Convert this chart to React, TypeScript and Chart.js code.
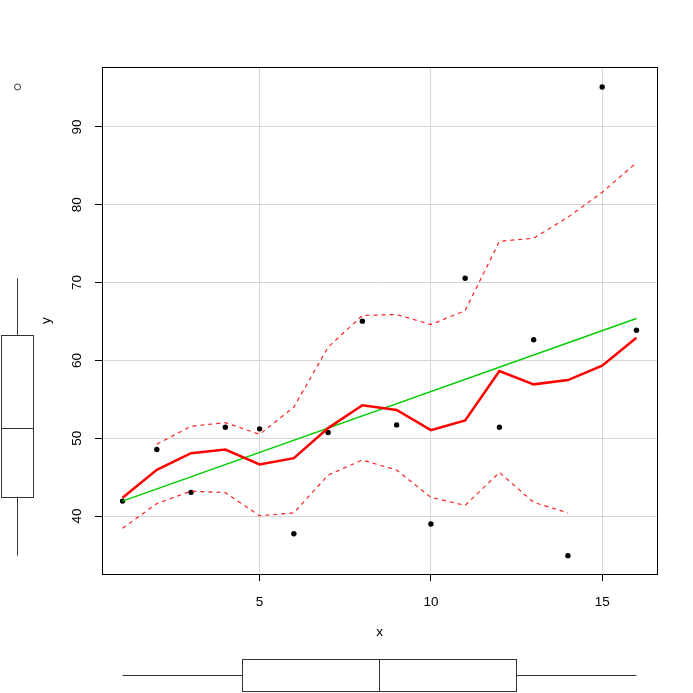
import React, { useEffect, useRef } from "react";
import { Chart, registerables } from "chart.js";

Chart.register(...registerables);

const xValues = [1, 2, 3, 4, 5, 6, 7, 8, 9, 10, 11, 12, 13, 14, 15, 16];
const yValues = [41.92, 48.55, 43.04, 51.41, 51.2, 37.73, 50.73, 65.04, 51.71, 38.97, 70.55, 51.41, 62.65, 34.91, 95.13, 63.88];

const smoothX = [1, 2, 3, 4, 5, 6, 7, 8, 9, 10, 11, 12, 13, 14, 15, 16];
const smoothY = [42.35, 45.94, 48.08, 48.55, 46.62, 47.44, 51.3, 54.23, 53.63, 51.03, 52.27, 58.63, 56.92, 57.47, 59.32, 62.91];

const upperX = [2, 3, 4, 5, 6, 7, 8, 9, 10, 11, 12, 13, 14, 15, 16];
const upperY = [49.23, 51.54, 52.0, 50.5, 54.0, 61.7, 65.77, 65.9, 64.6, 66.4, 75.3, 75.7, 78.4, 81.6, 85.4];

const lowerX = [1, 2, 3, 4, 5, 6, 7, 8, 9, 10, 11, 12, 13, 14];
const lowerY = [38.42, 41.6, 43.2, 43.0, 40.04, 40.4, 45.26, 47.2, 45.9, 42.4, 41.37, 45.6, 41.76, 40.4];

const fitX = [1, 16];
const fitY = [41.92, 65.38];

const xTicks = [5, 10, 15];
const yTicks = [40, 50, 60, 70, 80, 90];

// boxplot stats: min whisker, lower hinge, median, upper hinge, max whisker
const xBox = [1, 4.5, 8.5, 12.5, 16];
const yBox = [34.91, 42.48, 51.3, 63.27, 70.55];
const yOutliers = [95.13];

const xTitle = "x";
const yTitle = "y";

const FONT = "13.5px 'Liberation Sans', Arial, sans-serif";

const pts = (xs: number[], ys: number[]) => xs.map((x, i) => ({ x, y: ys[i] }));

const decorPlugin = {
  id: "decor",
  afterDraw(chart: any) {
    const ctx = chart.ctx as CanvasRenderingContext2D;
    const xs = chart.scales.x;
    const ys = chart.scales.y;
    const a = chart.chartArea;
    ctx.save();
    // plot box
    ctx.strokeStyle = "#000";
    ctx.lineWidth = 1;
    ctx.strokeRect(Math.round(a.left) + 0.5, Math.round(a.top) + 0.5, Math.round(a.right - a.left), Math.round(a.bottom - a.top));

    ctx.fillStyle = "#000";
    ctx.font = FONT;
    // x tick labels
    ctx.textAlign = "center";
    ctx.textBaseline = "alphabetic";
    xs.ticks.forEach((t: any) => {
      ctx.fillText(String(t.value), xs.getPixelForValue(t.value), 605.5);
    });
    // y tick labels (rotated)
    ys.ticks.forEach((t: any) => {
      ctx.save();
      ctx.translate(81, ys.getPixelForValue(t.value));
      ctx.rotate(-Math.PI / 2);
      ctx.textAlign = "center";
      ctx.textBaseline = "alphabetic";
      ctx.fillText(String(t.value), 0, 0);
      ctx.restore();
    });
    // axis titles
    ctx.textAlign = "center";
    ctx.fillText(xTitle, (a.left + a.right) / 2, 636);
    ctx.save();
    ctx.translate(50, (a.top + a.bottom) / 2);
    ctx.rotate(-Math.PI / 2);
    ctx.fillText(yTitle, 0, 0);
    ctx.restore();

    // boxplots
    ctx.strokeStyle = "#333";
    ctx.lineWidth = 1;
    const line = (x1: number, y1: number, x2: number, y2: number) => {
      ctx.beginPath();
      ctx.moveTo(x1, y1);
      ctx.lineTo(x2, y2);
      ctx.stroke();
    };
    // bottom (x) boxplot
    const bTop = 659.5, bBot = 691.5, bMid = 675.5;
    const px = xBox.map((v) => xs.getPixelForValue(v));
    line(px[0], bMid, px[1], bMid);
    line(px[3], bMid, px[4], bMid);
    ctx.strokeRect(Math.round(px[1]) + 0.5, bTop, Math.round(px[3] - px[1]), bBot - bTop);
    line(Math.round(px[2]) + 0.5, bTop, Math.round(px[2]) + 0.5, bBot);
    // left (y) boxplot
    const lL = 1.5, lR = 33.5, lMid = 17.5;
    const py = yBox.map((v) => ys.getPixelForValue(v));
    line(lMid, py[0], lMid, py[1]);
    line(lMid, py[3], lMid, py[4]);
    ctx.strokeRect(lL, Math.round(py[3]) + 0.5, lR - lL, Math.round(py[1] - py[3]));
    line(lL, Math.round(py[2]) + 0.5, lR, Math.round(py[2]) + 0.5);
    yOutliers.forEach((v) => {
      ctx.beginPath();
      ctx.arc(lMid, ys.getPixelForValue(v), 3, 0, Math.PI * 2);
      ctx.stroke();
    });
    ctx.restore();
  },
};

export default function App() {
  const ref = useRef<HTMLCanvasElement | null>(null);
  useEffect(() => {
    if (!ref.current) return;
    const chart = new Chart(ref.current, {
      type: "scatter",
      data: {
        datasets: [
          {
            label: "points",
            data: pts(xValues, yValues),
            backgroundColor: "#000",
            borderWidth: 0,
            pointRadius: 2.7,
            showLine: false,
            order: 5,
          },
          {
            label: "fit",
            data: pts(fitX, fitY),
            borderColor: "#00CD00",
            borderWidth: 1.4,
            pointRadius: 0,
            showLine: true,
            order: 3,
          },
          {
            label: "smooth",
            data: pts(smoothX, smoothY),
            borderColor: "#FF0000",
            borderWidth: 2.5,
            pointRadius: 0,
            showLine: true,
            order: 1,
          },
          {
            label: "upper",
            data: pts(upperX, upperY),
            borderColor: "#FF2020",
            borderWidth: 1.2,
            borderDash: [4, 4],
            pointRadius: 0,
            showLine: true,
            order: 2,
          },
          {
            label: "lower",
            data: pts(lowerX, lowerY),
            borderColor: "#FF2020",
            borderWidth: 1.2,
            borderDash: [4, 4],
            pointRadius: 0,
            showLine: true,
            order: 2,
          },
        ],
      },
      options: {
        animation: false,
        responsive: false,
        devicePixelRatio: 1,
        layout: { padding: { left: 0, top: 67, right: 36, bottom: 0 } },
        plugins: { legend: { display: false }, tooltip: { enabled: false } },
        scales: {
          x: {
            type: "linear",
            min: 0.4,
            max: 16.6,
            afterBuildTicks: (s: any) => {
              s.ticks = xTicks.map((v) => ({ value: v }));
            },
            afterFit: (s: any) => {
              s.height = 119;
            },
            ticks: { display: false },
            grid: { color: "#D6D6D6", tickColor: "#000", tickLength: 7, lineWidth: 1 },
            border: { display: false },
          },
          y: {
            type: "linear",
            min: 32.55,
            max: 97.7,
            afterBuildTicks: (s: any) => {
              s.ticks = yTicks.map((v) => ({ value: v }));
            },
            afterFit: (s: any) => {
              s.width = 102;
            },
            ticks: { display: false },
            grid: { color: "#D6D6D6", tickColor: "#000", tickLength: 7, lineWidth: 1 },
            border: { display: false },
          },
        },
      },
      plugins: [decorPlugin],
    });
    return () => chart.destroy();
  }, []);
  return (
    <div style={{ position: "absolute", left: 0, top: 0, width: 693, height: 693, background: "#fff" }}>
      <canvas ref={ref} width={693} height={693} style={{ display: "block" }} />
    </div>
  );
}
